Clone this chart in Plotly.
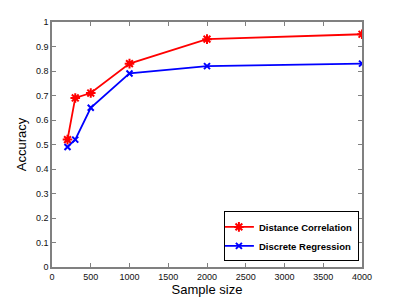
import plotly.graph_objects as go

sample_size = [200, 300, 500, 1000, 2000, 4000]
dist_corr = [0.52, 0.69, 0.71, 0.83, 0.93, 0.95]
disc_reg = [0.49, 0.52, 0.65, 0.79, 0.82, 0.83]
x_ticks = [0, 500, 1000, 1500, 2000, 2500, 3000, 3500, 4000]
y_ticks = [0, 0.1, 0.2, 0.3, 0.4, 0.5, 0.6, 0.7, 0.8, 0.9, 1]
y_tick_labels = ["0", "0.1", "0.2", "0.3", "0.4", "0.5", "0.6", "0.7", "0.8", "0.9", "1"]

fig = go.Figure()
fig.add_trace(go.Scatter(
    x=sample_size, y=dist_corr, mode="lines+markers", name="Distance Correlation",
    line=dict(color="#ff0000", width=1.8),
    marker=dict(symbol="asterisk-open", size=8, color="#ff0000", line=dict(color="#ff0000", width=2)),
))
fig.add_trace(go.Scatter(
    x=sample_size, y=disc_reg, mode="lines+markers", name="Discrete Regression",
    line=dict(color="#0000ff", width=1.8),
    marker=dict(symbol="x-thin-open", size=6, color="#0000ff", line=dict(color="#0000ff", width=2)),
))

axis_common = dict(
    showline=True, linecolor="#808080", linewidth=1.5, mirror="ticks",
    ticks="inside", ticklen=4, tickcolor="#808080", tickwidth=1,
    showgrid=False, zeroline=False, automargin=False,
    tickfont=dict(family="Liberation Sans, Arial, sans-serif", size=9, color="#111111"),
)

fig.update_xaxes(range=[0, 4000], tickvals=x_ticks, ticktext=[str(v) for v in x_ticks],
                 ticklabelstandoff=0,
                 title=dict(text="Sample size", font=dict(family="Liberation Sans, Arial", size=13, color="black"), standoff=3),
                 **axis_common)
fig.update_yaxes(range=[0, 1], tickvals=y_ticks, ticktext=y_tick_labels,
                 ticklabelstandoff=0,
                 title=dict(text="Accuracy", font=dict(family="Liberation Sans, Arial", size=13, color="black"), standoff=6),
                 **axis_common)

fig.update_layout(
    width=399, height=300,
    margin=dict(l=52, r=37, t=22, b=33),
    plot_bgcolor="white", paper_bgcolor="white",
    showlegend=True,
    legend=dict(x=0.99, y=0.125, xanchor="right", yanchor="middle",
                bgcolor="white", bordercolor="black", borderwidth=1,
                font=dict(family="Liberation Sans, Arial", size=9.5, color="black", weight="bold"),
                tracegroupgap=0, itemwidth=30, indentation=-6),
)

fig.write_html("out.html", config={"displayModeBar": False},
               post_script="document.body.style.margin='0';document.body.style.overflow='hidden';")
